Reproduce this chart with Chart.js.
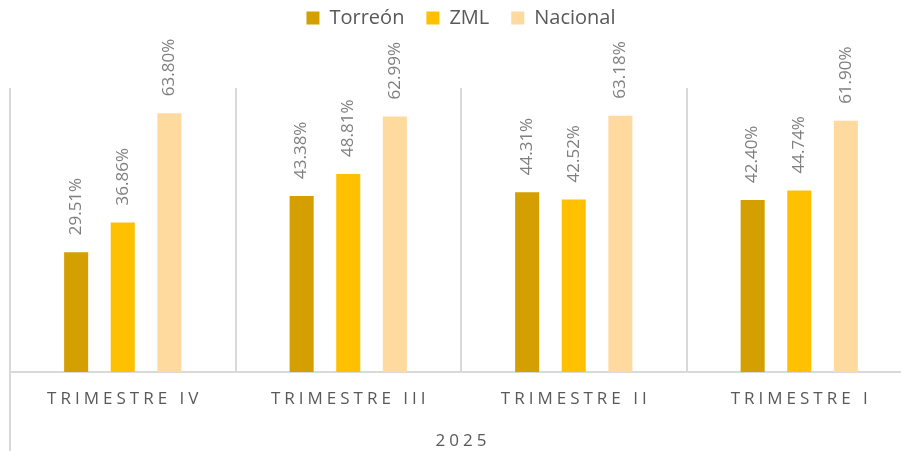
<!DOCTYPE html>
<html>
<head>
<meta charset="utf-8">
<script src="https://cdn.jsdelivr.net/npm/chart.js"></script>
<style>
  html, body { margin: 0; padding: 0; background: #fff; overflow: hidden; }
  #wrap { position: relative; width: 918px; height: 451px; }
</style>
</head>
<body>
<div id="wrap"><canvas id="chart"></canvas></div>
<script>
// Datos
var trimestres = ['TRIMESTRE IV', 'TRIMESTRE III', 'TRIMESTRE II', 'TRIMESTRE I'];
var anio = '2025';
var torreon = [29.51, 43.38, 44.31, 42.40];
var zml = [36.86, 48.81, 42.52, 44.74];
var nacional = [63.80, 62.99, 63.18, 61.90];

var FONT = "'Open Sans', 'Noto Sans', sans-serif";

// Espacio extra debajo de la leyenda
var espacioLeyenda = {
    id: 'espacioLeyenda',
    beforeInit: function(chart) {
        var fitOriginal = chart.legend.fit;
        chart.legend.fit = function() {
            fitOriginal.bind(chart.legend)();
            this.height += 50;
        };
    }
};

// Etiquetas de categoría, año y valores (texto rotado)
var etiquetasPlugin = {
    id: 'etiquetas',
    afterDraw: function(chart) {
        var ctx = chart.ctx;
        var area = chart.chartArea;
        var xScale = chart.scales.x;

        // linea izquierda que baja hasta el borde
        ctx.save();
        ctx.strokeStyle = '#d9d9d9';
        ctx.lineWidth = 2;
        ctx.beginPath();
        ctx.moveTo(area.left, area.bottom);
        ctx.lineTo(area.left, chart.height);
        ctx.stroke();
        ctx.restore();

        // categorías con espaciado de letras
        ctx.save();
        ctx.fillStyle = '#595959';
        ctx.font = '17px ' + FONT;
        ctx.letterSpacing = '4px';
        ctx.textAlign = 'center';
        ctx.textBaseline = 'middle';
        trimestres.forEach(function(t, i) {
            ctx.fillText(t, xScale.getPixelForValue(i) + 2, area.bottom + 27);
        });
        ctx.fillText(anio, (area.left + area.right) / 2 + 2, area.bottom + 69);
        ctx.restore();

        // valores sobre las barras
        ctx.save();
        ctx.fillStyle = '#7f7f7f';
        ctx.font = '17px ' + FONT;
        ctx.textAlign = 'left';
        ctx.textBaseline = 'middle';
        chart.data.datasets.forEach(function(ds, di) {
            chart.getDatasetMeta(di).data.forEach(function(bar, i) {
                ctx.save();
                ctx.translate(bar.x, bar.y - 17);
                ctx.rotate(-Math.PI / 2);
                ctx.fillText(ds.data[i].toFixed(2) + '%', 0, 0);
                ctx.restore();
            });
        });
        ctx.restore();
    }
};

var ctx = document.getElementById('chart').getContext('2d');
var chart = new Chart(ctx, {
    type: 'bar',
    data: {
        labels: trimestres,
        datasets: [
            { label: 'Torreón', data: torreon, backgroundColor: '#d49f00' },
            { label: 'ZML', data: zml, backgroundColor: '#ffc000' },
            { label: 'Nacional', data: nacional, backgroundColor: '#ffda9e' }
        ]
    },
    options: {
        responsive: true,
        maintainAspectRatio: false,
        animation: false,
        categoryPercentage: 0.62,
        barPercentage: 0.516,
        layout: { padding: { left: 10, right: 6, top: -14, bottom: 79 } },
        scales: {
            x: {
                grid: { offset: true, color: '#d9d9d9', lineWidth: 2, drawTicks: false },
                border: { color: '#d9d9d9', width: 2 },
                ticks: { display: false }
            },
            y: { display: false, min: 0, max: 70 }
        },
        plugins: {
            legend: {
                position: 'top',
                labels: {
                    boxWidth: 13,
                    boxHeight: 13,
                    padding: 22,
                    color: '#595959',
                    font: { family: FONT, size: 20 }
                }
            },
            tooltip: { enabled: false }
        }
    },
    plugins: [espacioLeyenda, etiquetasPlugin]
});
</script>
</body>
</html>
